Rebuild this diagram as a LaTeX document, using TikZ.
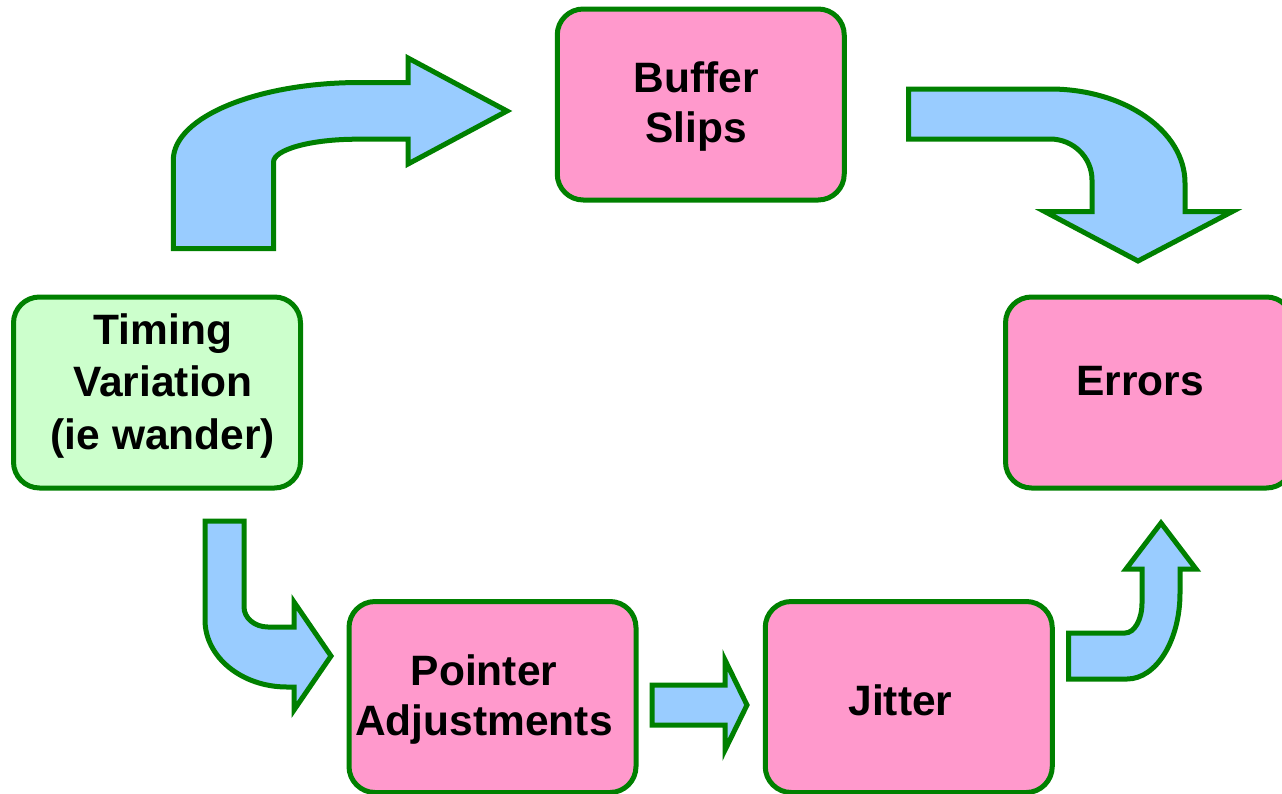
\documentclass[tikz,border=0pt]{standalone}
\usepackage{fontspec}
\setmainfont{Liberation Sans}
\definecolor{boxpink}{HTML}{FF99CC}
\definecolor{boxmint}{HTML}{CCFFCC}
\definecolor{arrowblue}{HTML}{99CCFF}
\definecolor{edgegreen}{HTML}{008000}
\begin{document}
\begin{tikzpicture}[x=1pt,y=-1pt,
  stagebox/.style={draw=edgegreen, line width=5pt, fill=boxpink,
    rounded corners=26pt, minimum width=287pt, minimum height=191pt,
    inner sep=0pt},
  startbox/.style={stagebox, fill=boxmint},
  caption/.style={font=\bfseries\fontsize{42.5}{50}\selectfont, align=center,
    inner sep=0pt, anchor=base},
  blockarrow/.style={draw=edgegreen, fill=arrowblue, line width=5pt,
    line join=miter}]
\clip (0,0) rectangle (1282,793);
\fill[white] (0,0) rectangle (1282,793);

% stage boxes
\node[startbox] (timing) at (157,392.5) {};
\node[stagebox] (buffer) at (700.75,104.5) {};
\node[stagebox] (errors) at (1149,392.5) {};
\node[stagebox] (pointer) at (492.5,697) {};
\node[stagebox] (jitter) at (908.75,697) {};

% box captions (anchored at the baseline of the last line)
\node[caption, font=\bfseries\fontsize{42.5}{52.5}\selectfont] (timing-t) at (163,449) {Timing\\Variation\\(ie wander)};
\node[caption] (buffer-t) at (696,142) {Buffer\\Slips};
\node[caption] (errors-t) at (1140,395) {Errors};
\node[caption] (pointer-t) at (484,735) {Pointer\\Adjustments};
\node[caption] (jitter-t) at (900.5,715) {Jitter};

% timing -> buffer: up, then right
\draw[blockarrow] (173.3,248.5) -- (173.3,160)
  arc[start angle=180, end angle=270, x radius=187, y radius=77.5]
  -- (408,82.5) -- (408,58) -- (507,111) -- (408,164) -- (408,139.2)
  -- (357,139.2)
  arc[start angle=270, end angle=180, x radius=83.5, y radius=23]
  -- (273.5,248.5) -- cycle;

% buffer -> errors: right, then down
\draw[blockarrow] (908.5,89) -- (1050,89)
  arc[start angle=270, end angle=360, x radius=135, y radius=94]
  -- (1185,211.7) -- (1232,211.7) -- (1138,261) -- (1045,211.7)
  -- (1092,211.7) -- (1092,180)
  arc[start angle=0, end angle=-90, x radius=42, y radius=41]
  -- (908.5,139) -- cycle;

% timing -> pointer: down, then right
\draw[blockarrow] (205,521) -- (244,521) -- (244,607)
  arc[start angle=180, end angle=90, x radius=24, y radius=20]
  -- (294,627) -- (294,602) -- (331,656) -- (294,710) -- (294,687)
  -- (287,687)
  arc[start angle=90, end angle=180, x radius=82, y radius=67]
  -- cycle;

% pointer -> jitter: straight right
\draw[blockarrow] (652,685) -- (725,685) -- (725,660) -- (747,705)
  -- (725,750) -- (725,725) -- (652,725) -- cycle;

% jitter -> errors: right, then up
\draw[blockarrow] (1068.5,679) -- (1068.5,633) -- (1125,633)
  arc[start angle=90, end angle=0, x radius=17, y radius=30]
  -- (1142,569) -- (1126,569) -- (1161,523) -- (1196,569) -- (1180,569)
  -- (1180,593)
  arc[start angle=0, end angle=90, x radius=53, y radius=86]
  -- cycle;
\end{tikzpicture}
\end{document}
